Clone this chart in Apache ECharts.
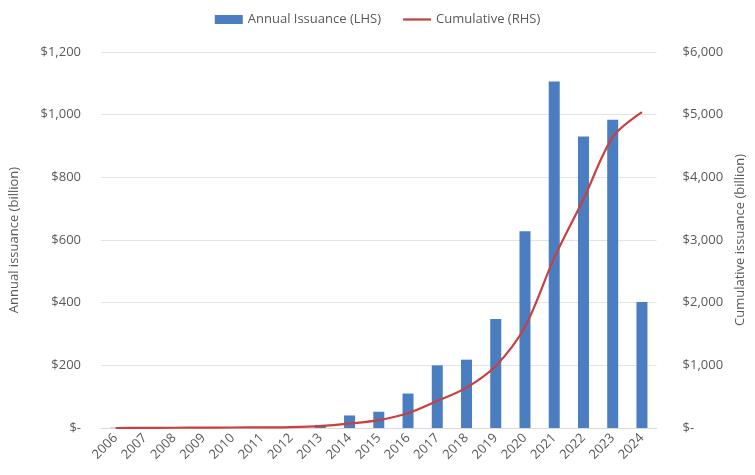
<!DOCTYPE html>
<html><head><meta charset="utf-8">
<script src="https://cdn.jsdelivr.net/npm/echarts@6/dist/echarts.min.js"></script>
<style>html,body{margin:0;padding:0;background:#fff}#c{width:755px;height:475px}</style>
</head><body><div id="c"></div>
<script>
const years = ['2006','2007','2008','2009','2010','2011','2012','2013','2014','2015','2016','2017','2018','2019','2020','2021','2022','2023','2024'];
const annualIssuance = [1, 1, 1, 1, 1, 1, 2, 10, 40, 52, 110, 200, 218, 348, 628, 1106, 930, 984, 402];
const cumulative = [0, 2, 4, 6, 8, 10, 14, 30, 70, 125, 235, 430, 645, 990, 1615, 2715, 3650, 4640, 5040];
const leftTicks = {min: 0, max: 1200, interval: 200};
const rightTicks = {min: 0, max: 6000, interval: 1000};

function fmt(v){ return v === 0 ? '$-' : '$' + v.toLocaleString('en-US'); }
const txt = '#595959';
const font = 'Open Sans';
const chart = echarts.init(document.getElementById('c'));
chart.setOption({
  animation: false,
  textStyle: {fontFamily: font},
  legend: {
    top: 8, left: 'center', itemGap: 22, itemWidth: 28, itemHeight: 9,
    textStyle: {color: txt, fontSize: 13, fontFamily: font},
    data: [
      {name: 'Annual Issuance (LHS)', icon: 'rect'},
      {name: 'Cumulative (RHS)', icon: 'path://M0,0 L100,0 L100,8 L0,8 Z'}
    ]
  },
  grid: {left: 98, right: 92, top: 52, bottom: 47},
  xAxis: {
    type: 'category', data: years,
    axisLine: {lineStyle: {color: '#d9d9d9'}},
    axisTick: {show: false},
    axisLabel: {rotate: 45, color: txt, fontSize: 13, margin: 8, fontFamily: font}
  },
  yAxis: [{
    type: 'value', min: leftTicks.min, max: leftTicks.max, interval: leftTicks.interval,
    name: 'Annual issuance (billion)', nameLocation: 'middle', nameGap: 80, nameRotate: 90,
    nameTextStyle: {color: txt, fontSize: 13, fontFamily: font},
    axisLabel: {formatter: fmt, color: txt, fontSize: 13, margin: 20, fontFamily: font},
    axisLine: {show: false}, axisTick: {show: false},
    splitLine: {lineStyle: {color: '#e3e3e3'}}
  }, {
    type: 'value', min: rightTicks.min, max: rightTicks.max, interval: rightTicks.interval,
    name: 'Cumulative issuance (billion)', nameLocation: 'middle', nameGap: 74, nameRotate: 90,
    nameTextStyle: {color: txt, fontSize: 13, fontFamily: font},
    axisLabel: {formatter: fmt, color: txt, fontSize: 13, margin: 26, fontFamily: font},
    axisLine: {show: false}, axisTick: {show: false},
    splitLine: {show: false}
  }],
  series: [{
    name: 'Annual Issuance (LHS)', type: 'bar', data: annualIssuance, yAxisIndex: 0,
    barWidth: 11, itemStyle: {color: '#4a7ec0'}
  }, {
    name: 'Cumulative (RHS)', type: 'line', data: cumulative, yAxisIndex: 1,
    smooth: 0.3, showSymbol: false, symbol: 'none',
    lineStyle: {color: '#c8403f', width: 2.2}, itemStyle: {color: '#c8403f'}
  }]
});
</script></body></html>
